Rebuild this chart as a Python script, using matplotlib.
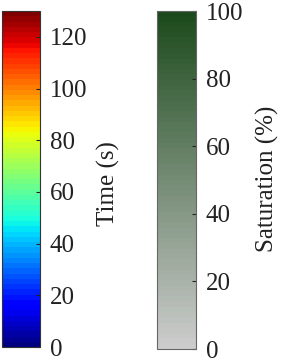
import numpy as np
import matplotlib
matplotlib.use("Agg")
import matplotlib.pyplot as plt
from matplotlib.colors import LinearSegmentedColormap, Normalize
from matplotlib.colorbar import ColorbarBase

time_range = [0, 130]
time_ticks = [0, 20, 40, 60, 80, 100, 120]
sat_range = [0, 100]
sat_ticks = [0, 20, 40, 60, 80, 100]
time_label = "Time (s)"
sat_label = "Saturation (%)"

plt.rcParams['font.family'] = ['Liberation Serif', 'DejaVu Serif']
fig = plt.figure(figsize=(2.83, 3.63), dpi=100)

jet64 = plt.get_cmap('jet', 64)
green = LinearSegmentedColormap.from_list('sat', [(0.80, 0.80, 0.80), (0.11, 0.29, 0.11)], N=64)

ax1 = fig.add_axes([2/283, 16/363, 38/283, 336/363])
cb1 = ColorbarBase(ax1, cmap=jet64, norm=Normalize(*time_range), orientation='vertical')
cb1.set_ticks(time_ticks)
cb1.outline.set_edgecolor('#333333')
cb1.outline.set_linewidth(0.8)
ax1.tick_params(direction='in', length=3, width=0.8, labelsize=18, colors='#222222', pad=7)
fig.text(108/283, 1 - 184/363, time_label, rotation=90, ha='center', va='center', fontsize=18, color='#222222')

ax2 = fig.add_axes([157/283, 14/363, 39/283, 338/363])
cb2 = ColorbarBase(ax2, cmap=green, norm=Normalize(*sat_range), orientation='vertical')
cb2.set_ticks(sat_ticks)
cb2.outline.set_edgecolor('#666666')
cb2.outline.set_linewidth(0.8)
ax2.tick_params(direction='in', length=3, width=0.8, labelsize=18, colors='#222222', pad=7)
fig.text(267/283, 1 - 179/363, sat_label, rotation=90, ha='center', va='center', fontsize=18, color='#222222')

fig.savefig('out.png', dpi=100)
